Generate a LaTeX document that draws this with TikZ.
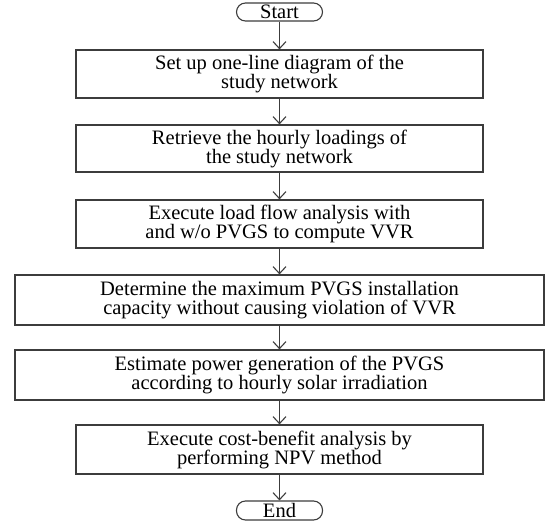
\documentclass[tikz,border=0pt]{standalone}
\usepackage{fontspec}
\setmainfont{Liberation Serif}
\usetikzlibrary{arrows.meta}
\definecolor{ln}{RGB}{60,60,60}
\begin{document}
\begin{tikzpicture}[x=1pt,y=-1pt,
  every node/.style={inner sep=0pt, text=black},
  stepbox/.style={draw=ln, line width=1.2pt, align=center,
    font=\fontsize{20.5}{19}\selectfont},
  term/.style={draw=ln, line width=1.1pt, rounded corners=9pt,
    minimum width=86pt, minimum height=18pt, font=\fontsize{20.5}{19}\selectfont},
  conn/.style={draw=ln, line width=1.1pt, -{Straight Barb[length=7pt,width=13pt]}}
]
\useasboundingbox (0,0) rectangle (547,527);
\node[term] (start) at (279.5,12) {Start};
\node[stepbox, minimum width=407pt, minimum height=48pt,
  font=\fontsize{20.5}{14}\selectfont] (b1) at (279.5,74)
  {Set up one-line diagram of the\\study network};
\node[stepbox, minimum width=407pt, minimum height=47pt] (b2) at (279.5,148.5)
  {Retrieve the hourly loadings of\\the study network};
\node[stepbox, minimum width=407pt, minimum height=48pt] (b3) at (279.5,224)
  {Execute load flow analysis with\\and w/o PVGS to compute VVR};
\node[stepbox, minimum width=529pt, minimum height=50pt] (b4) at (279.5,300)
  {Determine the maximum PVGS installation\\capacity without causing violation of VVR};
\node[stepbox, minimum width=529pt, minimum height=50pt] (b5) at (279.5,375)
  {Estimate power generation of the PVGS\\according to hourly solar irradiation};
\node[stepbox, minimum width=407pt, minimum height=49pt] (b6) at (279.5,449.5)
  {Execute cost-benefit analysis by\\performing NPV method};
\node[term, minimum height=19pt] (end) at (279.5,510.5) {End};
\draw[conn] (start) -- (b1);
\draw[conn] (b1) -- (b2);
\draw[conn] (b2) -- (b3);
\draw[conn] (b3) -- (b4);
\draw[conn] (b4) -- (b5);
\draw[conn] (b5) -- (b6);
\draw[conn] (b6) -- (end);
\end{tikzpicture}
\end{document}
